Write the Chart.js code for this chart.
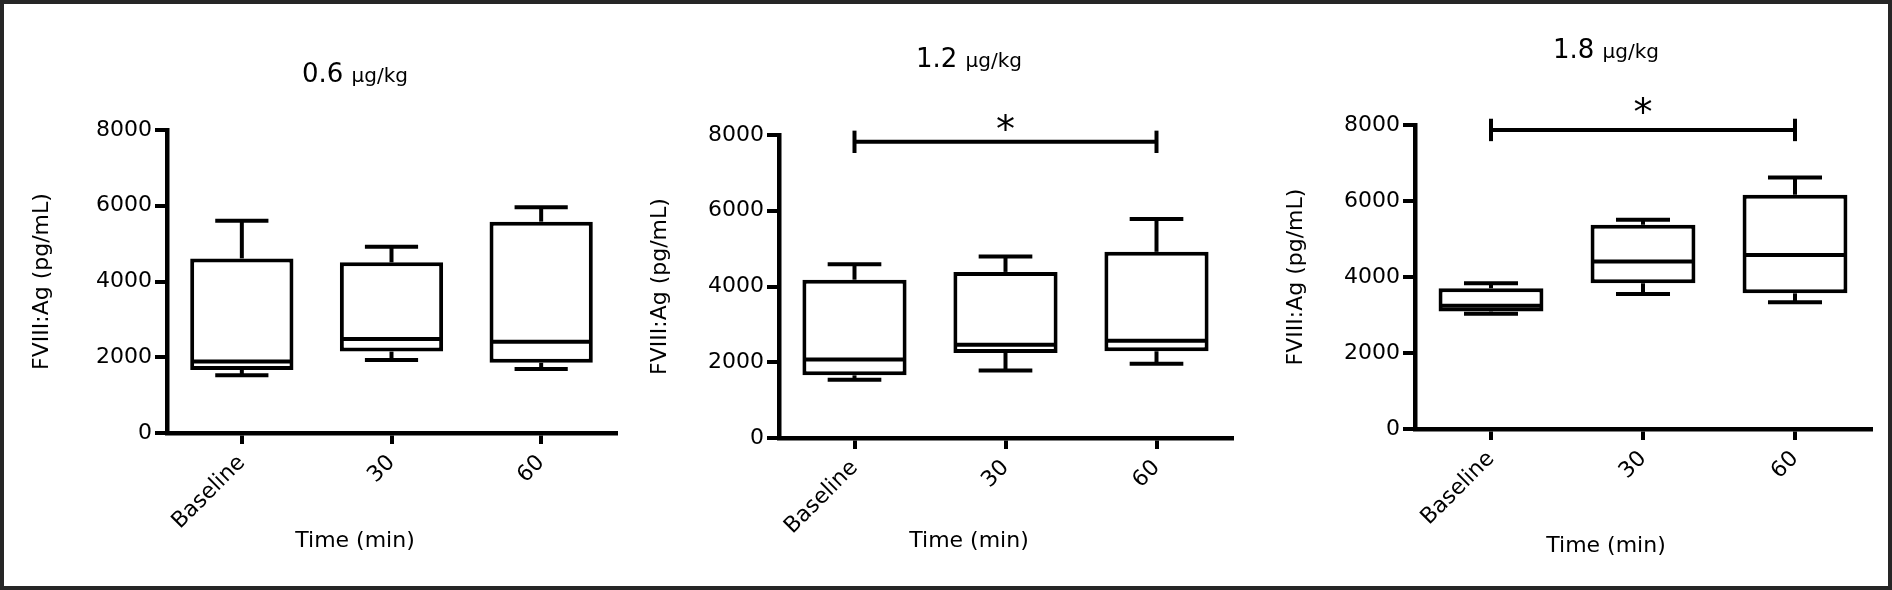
<!DOCTYPE html>
<html lang="en">
<head>
    <meta charset="UTF-8">
    <title>FVIII:Ag by dose</title>
    <script src="https://cdn.jsdelivr.net/npm/chart.js@4"></script>
    <style>
        html, body { margin: 0; padding: 0; background: #fff; }
        #page { position: relative; width: 1892px; height: 590px; overflow: hidden; background: #fff; }
        #page canvas { position: absolute; top: 0; }
        #frame {
            position: absolute; left: 0; top: 0; width: 1892px; height: 590px;
            box-sizing: border-box; border: 4px solid #262626; pointer-events: none;
        }
    </style>
</head>
<body>
<div id="page">
    <canvas id="dose06" width="630" height="590" style="left:0"></canvas>
    <canvas id="dose12" width="630" height="590" style="left:630px"></canvas>
    <canvas id="dose18" width="632" height="590" style="left:1260px"></canvas>
    <div id="frame"></div>
</div>

<script>
    // categories and axis ticks
    const timePoints = ['Baseline', '30', '60'];
    const yTicks = [0, 2000, 4000, 6000, 8000];
    const doseLabels = ['0.6', '1.2', '1.8'];

    // 0.6 ug/kg box plot values (pg/mL)
    const dose06Min    = [1525, 1930, 1690];
    const dose06Q1     = [1665, 2150, 1855];
    const dose06Median = [1885, 2480, 2410];
    const dose06Q3     = [4610, 4505, 5580];
    const dose06Max    = [5605, 4920, 5960];

    // 1.2 ug/kg
    const dose12Min    = [1540, 1785, 1960];
    const dose12Q1     = [1655, 2245, 2290];
    const dose12Median = [2070, 2465, 2570];
    const dose12Q3     = [4180, 4385, 4915];
    const dose12Max    = [4585, 4795, 5785];

    // 1.8 ug/kg
    const dose18Min    = [3030, 3555, 3335];
    const dose18Q1     = [3090, 3835, 3570];
    const dose18Median = [3245, 4405, 4580];
    const dose18Q3     = [3705, 5375, 6165];
    const dose18Max    = [3835, 5505, 6620];

    // significance bracket (Baseline vs 60): bar level and star level, data units
    const dose12Bracket = [7820, 8350];
    const dose18Bracket = [7870, 8530];

    Chart.defaults.font.family = "'DejaVu Sans', sans-serif";
    Chart.defaults.color = '#000';

    const tickFont = { size: 22 };
    const lineW = 4;
    const axisW = 4.5;

    function drawLine(ctx, x1, y1, x2, y2) {
        ctx.beginPath();
        ctx.moveTo(x1, y1);
        ctx.lineTo(x2, y2);
        ctx.stroke();
    }

    function makePanel(id, stats, dose, box) {
        // whiskers, medians, bracket and the two text titles
        const overlay = {
            id: 'boxOverlay',
            afterDraw(chart) {
                const { ctx, scales: { x, y } } = chart;
                const bars = chart.getDatasetMeta(0).data;
                ctx.save();
                ctx.strokeStyle = '#000';
                ctx.lineWidth = lineW;

                timePoints.forEach((_, i) => {
                    const cx = x.getPixelForValue(i);
                    const half = bars[i].width / 2;
                    const capHalf = half * 0.515;
                    const yMax = y.getPixelForValue(stats.max[i]);
                    const yMin = y.getPixelForValue(stats.min[i]);
                    drawLine(ctx, cx, y.getPixelForValue(stats.q3[i]), cx, yMax);
                    drawLine(ctx, cx - capHalf, yMax, cx + capHalf, yMax);
                    drawLine(ctx, cx, y.getPixelForValue(stats.q1[i]), cx, yMin);
                    drawLine(ctx, cx - capHalf, yMin, cx + capHalf, yMin);
                    const yMed = y.getPixelForValue(stats.median[i]);
                    drawLine(ctx, cx - half + lineW / 2, yMed, cx + half - lineW / 2, yMed);
                });

                if (stats.bracket) {
                    const [level, starLevel] = stats.bracket;
                    const x1 = x.getPixelForValue(0);
                    const x2 = x.getPixelForValue(timePoints.length - 1);
                    const yb = y.getPixelForValue(level);
                    const capUp = y.getPixelForValue(level + 295);
                    const capDn = y.getPixelForValue(level - 295);
                    ctx.lineWidth = 4;
                    drawLine(ctx, x1, yb, x2, yb);
                    drawLine(ctx, x1, capUp, x1, capDn);
                    drawLine(ctx, x2, capUp, x2, capDn);

                    ctx.font = "38px 'DejaVu Sans'";
                    ctx.fillStyle = '#000';
                    ctx.textAlign = 'center';
                    ctx.textBaseline = 'alphabetic';
                    const m = ctx.measureText('*');
                    const yc = y.getPixelForValue(starLevel);
                    const base = yc + (m.actualBoundingBoxAscent - m.actualBoundingBoxDescent) / 2;
                    ctx.fillText('*', x.getPixelForValue(1), base);
                }

                // panel title: dose value with smaller unit
                ctx.fillStyle = '#000';
                ctx.textBaseline = 'alphabetic';
                ctx.textAlign = 'left';
                const bigFont = "26px 'DejaVu Sans'";
                const smallFont = "20px 'DejaVu Sans'";
                ctx.font = bigFont;
                const numText = dose + ' ';
                const wNum = ctx.measureText(numText).width;
                ctx.font = smallFont;
                const wUnit = ctx.measureText('\u00b5g/kg').width;
                const start = box.titleX - (wNum + wUnit) / 2;
                ctx.font = bigFont;
                ctx.fillText(numText, start, box.titleBase);
                ctx.font = smallFont;
                ctx.fillText('\u00b5g/kg', start + wNum, box.titleBase);

                // x axis title
                ctx.font = "22px 'DejaVu Sans'";
                ctx.textAlign = 'center';
                ctx.textBaseline = 'middle';
                ctx.fillText('Time (min)', box.titleX, box.xTitleY);
                ctx.restore();
            }
        };

        return new Chart(document.getElementById(id), {
            type: 'bar',
            data: {
                labels: timePoints,
                datasets: [{
                    data: timePoints.map((_, i) => [stats.q1[i], stats.q3[i]]),
                    backgroundColor: '#fff',
                    borderColor: '#000',
                    borderWidth: lineW,
                    borderSkipped: false,
                    barPercentage: 0.69,
                    categoryPercentage: 1
                }]
            },
            options: {
                responsive: false,
                animation: false,
                events: [],
                layout: { padding: { top: box.top, right: box.right, bottom: 0, left: 0 } },
                plugins: {
                    legend: { display: false },
                    tooltip: { enabled: false }
                },
                scales: {
                    x: {
                        offset: true,
                        grid: {
                            display: true, offset: false, drawOnChartArea: false,
                            drawTicks: true, tickLength: 11, lineWidth: 4, color: '#000'
                        },
                        border: { display: true, color: '#000', width: axisW },
                        ticks: { color: '#000', font: tickFont, minRotation: 45, maxRotation: 45, padding: 6 },
                        afterFit: (s) => { s.height = box.xHeight; }
                    },
                    y: {
                        min: yTicks[0],
                        max: yTicks[yTicks.length - 1],
                        grid: {
                            display: true, drawOnChartArea: false,
                            drawTicks: true, tickLength: 12, lineWidth: 4, color: '#000'
                        },
                        border: { display: true, color: '#000', width: axisW },
                        ticks: {
                            stepSize: yTicks[1] - yTicks[0],
                            color: '#000', font: tickFont, padding: 3,
                            callback: (v) => String(v)
                        },
                        title: {
                            display: true, text: 'FVIII:Ag (pg/mL)', color: '#000',
                            font: { size: 22 }, padding: { top: box.yTitlePad, bottom: 0 }
                        },
                        afterFit: (s) => { s.width = box.yWidth; }
                    }
                }
            },
            plugins: [overlay]
        });
    }

    makePanel('dose06',
        { min: dose06Min, q1: dose06Q1, median: dose06Median, q3: dose06Q3, max: dose06Max },
        doseLabels[0],
        { yWidth: 167, top: 130, right: 14, xHeight: 157, yTitlePad: 28.8, titleX: 355, titleBase: 82, xTitleY: 541 });

    makePanel('dose12',
        { min: dose12Min, q1: dose12Q1, median: dose12Median, q3: dose12Q3, max: dose12Max, bracket: dose12Bracket },
        doseLabels[1],
        { yWidth: 149, top: 135, right: 28, xHeight: 152, yTitlePad: 16.8, titleX: 339, titleBase: 67, xTitleY: 541 });

    makePanel('dose18',
        { min: dose18Min, q1: dose18Q1, median: dose18Median, q3: dose18Q3, max: dose18Max, bracket: dose18Bracket },
        doseLabels[2],
        { yWidth: 155, top: 125, right: 21, xHeight: 161, yTitlePad: 22.8, titleX: 346, titleBase: 58, xTitleY: 546 });
</script>
</body>
</html>
